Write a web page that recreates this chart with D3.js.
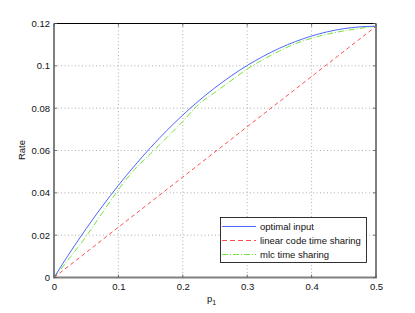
<!DOCTYPE html>
<html><head><meta charset="utf-8">
<script src="https://cdn.jsdelivr.net/npm/d3@7"></script>
<style>body{margin:0;background:#fff}svg{display:block;font-family:"Liberation Sans",Arial,sans-serif}</style>
</head><body>
<svg id="c" width="415" height="313"></svg>
<script>
const pVals = [0,0.025,0.05,0.075,0.1,0.125,0.15,0.175,0.2,0.225,0.25,0.275,0.3,0.325,0.35,0.375,0.4,0.425,0.45,0.475,0.5];
const optimalInput = [0,0.01189,0.02309,0.03364,0.04352,0.05278,0.06139,0.06939,0.07675,0.08351,0.08966,0.09521,0.10017,0.10452,0.10830,0.11148,0.11409,0.11612,0.11756,0.11842,0.11871];
const mlcTimeSharing = [0,0.0095,0.0195,0.0305,0.0415,0.0510,0.0585,0.0660,0.0737,0.0820,0.0875,0.0930,0.0985,0.1030,0.1070,0.1105,0.1130,0.1150,0.1165,0.1177,0.1187];
const linearP = [0,0.5];
const linearCode = [0,0.1187];
const xTicks = [0,0.1,0.2,0.3,0.4,0.5];
const yTicks = [0,0.02,0.04,0.06,0.08,0.1,0.12];
const seriesNames = ["optimal input","linear code time sharing","mlc time sharing"];

const svg = d3.select("#c");
const L=54,R=376,T=23.5,B=277.5;
const x = d3.scaleLinear().domain([0,0.5]).range([L,R]);
const y = d3.scaleLinear().domain([0,0.12]).range([B,T]);
const fs = "9.5px";

// grid
const g = svg.append("g");
g.selectAll(".gx").data(xTicks.slice(1,-1)).join("line")
  .attr("x1",d=>x(d)).attr("x2",d=>x(d)).attr("y1",T).attr("y2",B)
  .attr("stroke","#9a9a9a").attr("stroke-width",0.8).attr("stroke-dasharray","1,2.5");
g.selectAll(".gy").data(yTicks.slice(1,-1)).join("line")
  .attr("y1",d=>y(d)).attr("y2",d=>y(d)).attr("x1",L).attr("x2",R)
  .attr("stroke","#9a9a9a").attr("stroke-width",0.8).attr("stroke-dasharray","1,2.5");

// series
const line = d3.line().x(d=>x(d[0])).y(d=>y(d[1]));
const blueData = pVals.map((p,i)=>[p,optimalInput[i]]);
const greenData = pVals.map((p,i)=>[p,mlcTimeSharing[i]]);
const redData = linearP.map((p,i)=>[p,linearCode[i]]);
svg.append("path").datum(redData).attr("d",line).attr("fill","none").attr("stroke","#ff3b3b").attr("stroke-width",0.9).attr("stroke-dasharray","4,3");
svg.append("path").datum(greenData).attr("d",line.curve(d3.curveMonotoneX)).attr("fill","none").attr("stroke","#66e020").attr("stroke-width",0.9).attr("stroke-dasharray","6,2,1,2");
svg.append("path").datum(blueData).attr("d",d3.line().x(d=>x(d[0])).y(d=>y(d[1])).curve(d3.curveMonotoneX)).attr("fill","none").attr("stroke","#3a55ff").attr("stroke-width",0.9);

// box
svg.append("line").attr("x1",L).attr("x2",R).attr("y1",T).attr("y2",T).attr("stroke","#000").attr("stroke-width",1);
svg.append("line").attr("x1",R).attr("x2",R).attr("y1",T).attr("y2",B).attr("stroke","#808080").attr("stroke-width",2);
svg.append("line").attr("x1",L).attr("x2",L).attr("y1",T).attr("y2",B).attr("stroke","#808080").attr("stroke-width",2);
svg.append("line").attr("x1",L-1).attr("x2",R+1).attr("y1",B).attr("y2",B).attr("stroke","#808080").attr("stroke-width",2);

// axes labels via d3 axes
const xAxis = d3.axisBottom(x).tickValues(xTicks).tickFormat(d=>String(d)).tickSize(0).tickPadding(6);
const yAxis = d3.axisLeft(y).tickValues(yTicks).tickFormat(d=>String(d)).tickSize(0).tickPadding(4);
const gx = svg.append("g").attr("transform",`translate(0,${B})`).call(xAxis);
const gy = svg.append("g").attr("transform",`translate(${L},0)`).call(yAxis);
[gx,gy].forEach(a=>{a.select(".domain").remove();a.selectAll("text").attr("font-size",fs).attr("fill","#111").attr("font-family","Liberation Sans, Arial, sans-serif");});

// inward ticks
const tk = svg.append("g").attr("stroke","#555").attr("stroke-width",0.8);
xTicks.forEach(v=>{tk.append("line").attr("x1",x(v)).attr("x2",x(v)).attr("y1",B).attr("y2",B-3);tk.append("line").attr("x1",x(v)).attr("x2",x(v)).attr("y1",T).attr("y2",T+3);});
yTicks.forEach(v=>{tk.append("line").attr("y1",y(v)).attr("y2",y(v)).attr("x1",L).attr("x2",L+3);tk.append("line").attr("y1",y(v)).attr("y2",y(v)).attr("x1",R).attr("x2",R-3);});

// axis titles
svg.append("text").attr("transform","translate(25,150) rotate(-90)").attr("text-anchor","middle").attr("font-size",fs).attr("fill","#111").text("Rate");
const xl = svg.append("text").attr("x",207).attr("y",302).attr("font-size",fs).attr("fill","#111");
xl.append("tspan").text("p");
xl.append("tspan").attr("dy",3).attr("font-size","7px").text("1");

// legend
const lg = svg.append("g");
lg.append("rect").attr("x",220.5).attr("y",217.5).attr("width",146).attr("height",45).attr("fill","#fff").attr("stroke","#000").attr("stroke-width",0.8);
const legStyles = [{c:"#3a55ff",d:null},{c:"#ff3b3b",d:"5,3"},{c:"#66e020",d:"6,2,1,2"}];
seriesNames.forEach((n,i)=>{
  const yy = 226.5 + i*14;
  lg.append("line").attr("x1",222).attr("x2",256).attr("y1",yy).attr("y2",yy).attr("stroke",legStyles[i].c).attr("stroke-width",0.9).attr("stroke-dasharray",legStyles[i].d);
  lg.append("text").attr("x",260).attr("y",yy+3.3).attr("font-size",fs).attr("fill","#111").text(n);
});
</script>
</body></html>
